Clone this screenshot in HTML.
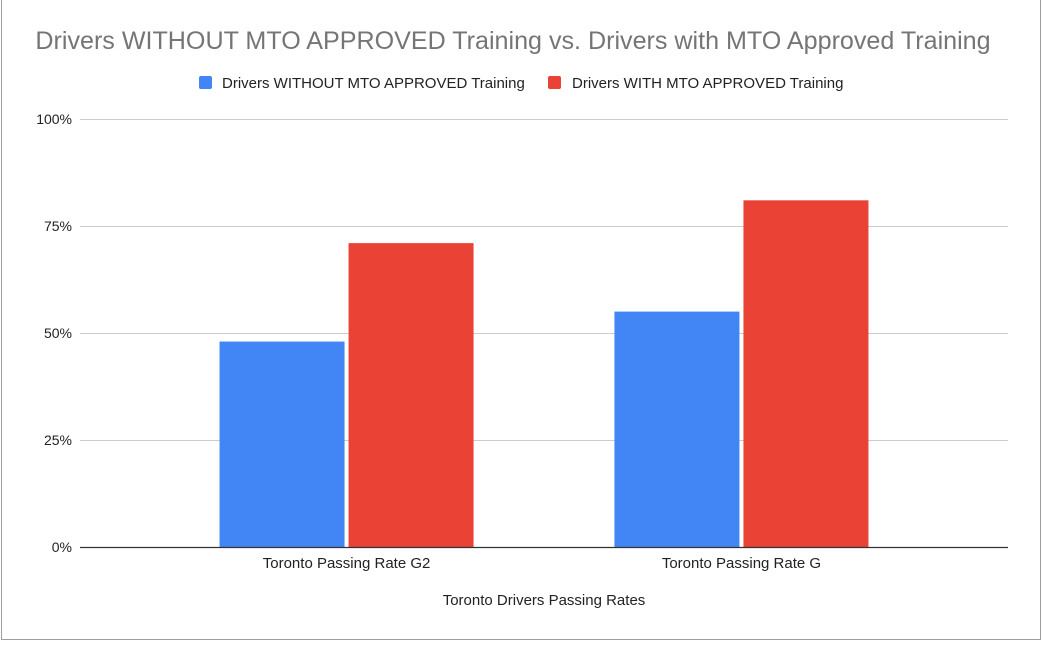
<!DOCTYPE html>
<html><head><meta charset="utf-8"><style>
html,body{margin:0;padding:0;background:#fff;}
body{width:1043px;height:644px;overflow:hidden;font-family:"Liberation Sans",Arial,sans-serif;}
</style></head><body>
<svg id="chart" width="1043" height="644" xmlns="http://www.w3.org/2000/svg" font-family="Liberation Sans, Arial, sans-serif">
<rect x="1.5" y="-1" width="1039" height="640.5" fill="#fff" stroke="#9e9e9e" stroke-width="1"/>
<text x="513" y="49" text-anchor="middle" font-size="25.1" fill="#757575">Drivers WITHOUT MTO APPROVED Training vs. Drivers with MTO Approved Training</text>
<g>
<rect x="199" y="76" width="13" height="13" rx="2" fill="#4285f4"/>
<text x="222" y="88" font-size="15" fill="#222">Drivers WITHOUT MTO APPROVED Training</text>
<rect x="548" y="76" width="13" height="13" rx="2" fill="#ea4335"/>
<text x="572" y="88" font-size="15" fill="#222">Drivers WITH MTO APPROVED Training</text>
</g>
<g id="grid"></g><g id="bars"></g><g id="axis"></g>
<text x="544" y="605" text-anchor="middle" font-size="15" fill="#222">Toronto Drivers Passing Rates</text>
</svg>
<script>
const categories = ["Toronto Passing Rate G2", "Toronto Passing Rate G"];
const seriesWithout = [48, 55];
const seriesWith = [71, 81];
const tickValues = [0, 25, 50, 75, 100];
const tickLabels = ["0%", "25%", "50%", "75%", "100%"];

const NS = "http://www.w3.org/2000/svg";
const plotL = 80, plotR = 1008, plotTop = 119, plotBot = 547;
const y = v => plotBot - (v / 100) * (plotBot - plotTop);
const step = (plotR - plotL) / (categories.length + 0.35);
const xCenter = i => plotL + step * (i + 0.675);
const barW = 125, gap = 4;
function mk(tag, attrs, parent) {
  const el = document.createElementNS(NS, tag);
  for (const k in attrs) el.setAttribute(k, attrs[k]);
  parent.appendChild(el); return el;
}
const grid = document.getElementById('grid'), bars = document.getElementById('bars'), axis = document.getElementById('axis');
tickValues.forEach((t, i) => {
  if (t !== 0) {
    const l = mk('line', {x1: plotL, x2: plotR, y1: y(t) + 0.5, y2: y(t) + 0.5, stroke: '#cccccc', 'stroke-width': 1}, grid);
    
    
  }
  const tx = mk('text', {x: 72, y: y(t) + 5, 'text-anchor': 'end', 'font-size': 14, fill: '#222'}, axis);
  tx.textContent = tickLabels[i];
  
  
});
categories.forEach((c, i) => {
  const cx = xCenter(i);
  const b1 = mk('rect', {x: cx - gap / 2 - barW, y: y(seriesWithout[i]), width: barW, height: plotBot - y(seriesWithout[i]), fill: '#4285f4'}, bars);
  
  
  const b2 = mk('rect', {x: cx + gap / 2, y: y(seriesWith[i]), width: barW, height: plotBot - y(seriesWith[i]), fill: '#ea4335'}, bars);
  
  
  const tx = mk('text', {x: cx, y: 568, 'text-anchor': 'middle', 'font-size': 15, fill: '#222'}, axis);
  tx.textContent = c;
  
  
});
const base = mk('line', {x1: plotL, x2: plotR, y1: plotBot + 0.5, y2: plotBot + 0.5, stroke: '#333', 'stroke-width': 1.3}, axis);


</script>
</body></html>
